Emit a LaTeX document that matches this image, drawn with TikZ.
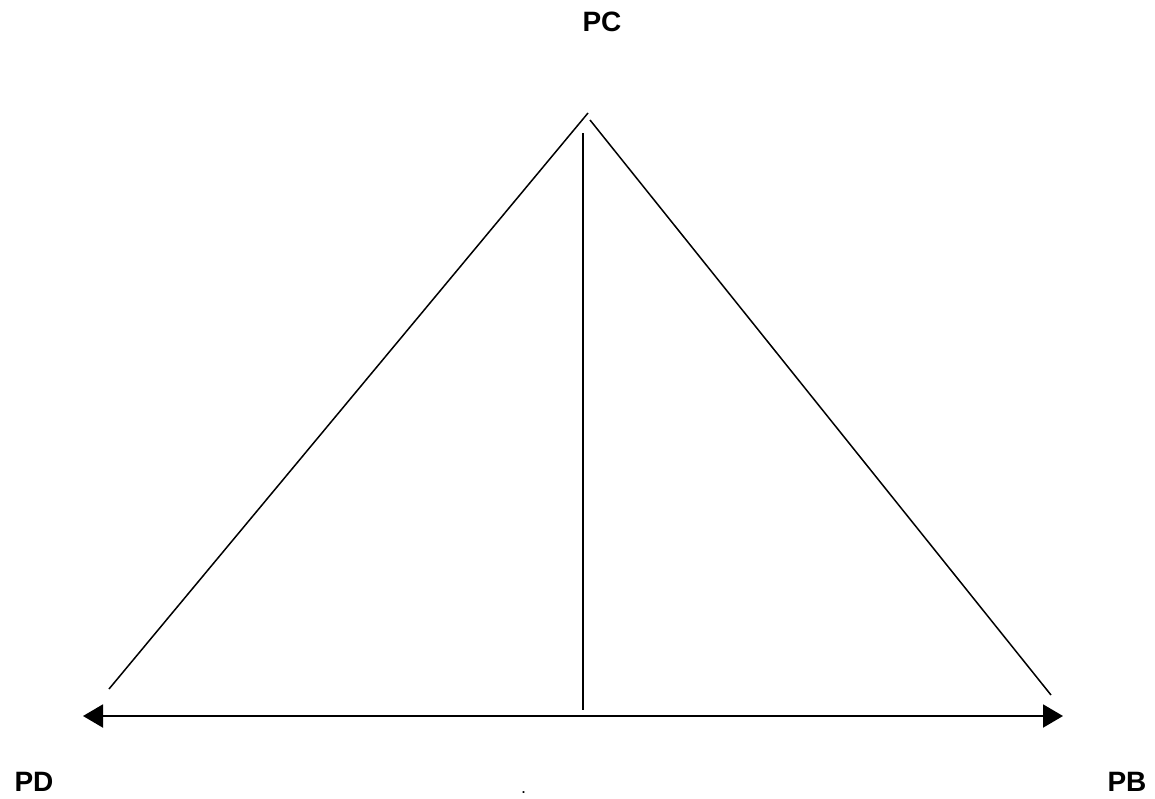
\documentclass[tikz,border=0pt]{standalone}
\usepackage{fontspec}
\setmainfont{Liberation Sans}
\usetikzlibrary{arrows.meta,positioning}

\begin{document}
\begin{tikzpicture}[
  x=0.5pt, y=-0.5pt,
  lbl/.style={font=\fontsize{14}{16}\selectfont\bfseries, inner sep=0pt},
  side/.style={line width=0.75pt},
  axis/.style={line width=1pt, {Triangle[length=10pt,width=11.5pt]}-{Triangle[length=10pt,width=11.5pt]}},
]
\useasboundingbox (0,0) rectangle (1155,798);

% labels
\node[lbl] (pc) at (602,22) {PC};
\node[lbl] (pd) at (34,782) {PD};
\node[lbl] (pb) at (1127,782) {PB};
\node[font=\fontsize{9}{11}\selectfont, inner sep=0pt, anchor=base] (dot) at (523.5,793.5) {.};

% triangle sides
\coordinate (apexL) at (588,113);
\coordinate (apexR) at (590,120);
\coordinate (footL) at (109,689);
\coordinate (footR) at (1051,695);
\draw[side] (footL) -- (apexL);
\draw[side] (apexR) -- (footR);

% vertical
\coordinate (vtop) at (583,133);
\coordinate (vbot) at (583,710);
\draw[line width=1pt] (vtop) -- (vbot);

% base arrow
\coordinate (arrL) at (83,716);
\coordinate (arrR) at (1063,716);
\draw[axis] (arrL) -- (arrR);
\end{tikzpicture}
\end{document}
